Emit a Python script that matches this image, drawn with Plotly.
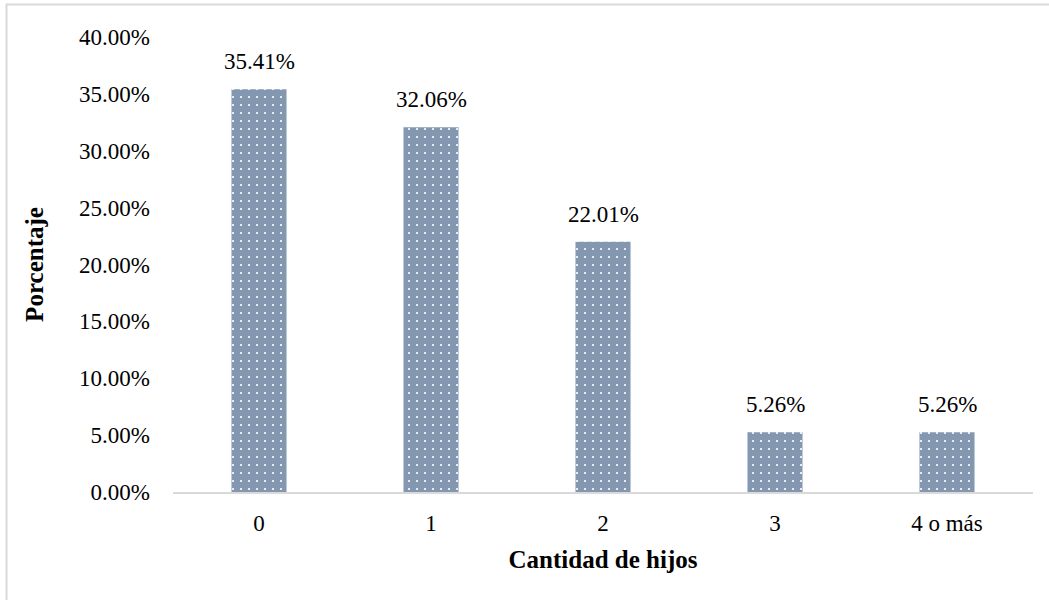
import plotly.graph_objects as go

# Distribution of respondents by number of children
categorias = ["0", "1", "2", "3", "4 o más"]
porcentajes = [35.41, 32.06, 22.01, 5.26, 5.26]
ticks_y = [0, 5, 10, 15, 20, 25, 30, 35, 40]

FONT = "Liberation Serif, Times New Roman, serif"
BAR_COLOR = "#8497B0"
GRID_GRAY = "#D9D9D9"
TICK_SIZE = 23
TITLE_SIZE = 25

fig = go.Figure()
fig.add_trace(go.Bar(
    x=categorias,
    y=porcentajes,
    width=0.32,
    marker=dict(
        color=BAR_COLOR,
        line=dict(width=0),
        pattern=dict(shape=".", fgcolor="white", bgcolor=BAR_COLOR,
                     size=8, solidity=0.06, fillmode="replace"),
    ),
    hoverinfo="skip",
))

# value labels above each bar
for cat, val in zip(categorias, porcentajes):
    fig.add_annotation(
        x=cat, y=val, text=f"{val:.2f}%", showarrow=False,
        yanchor="bottom", yshift=13,
        font=dict(family=FONT, size=TICK_SIZE, color="#000000"),
    )

# light frame around the chart area
fig.add_shape(
    type="rect", xref="paper", yref="paper",
    x0=-0.1936, x1=1.05, y0=-0.35, y1=1.0714,
    line=dict(color=GRID_GRAY, width=2), fillcolor="rgba(0,0,0,0)",
    layer="below",
)

fig.update_layout(
    width=1049, height=600,
    margin=dict(l=173, r=16, t=37, b=108),
    paper_bgcolor="white", plot_bgcolor="white",
    showlegend=False,
    font=dict(family=FONT, size=TICK_SIZE, color="#000000"),
    xaxis=dict(
        type="category",
        showgrid=False, zeroline=False,
        showline=True, linecolor=GRID_GRAY, linewidth=2,
        ticks="", ticklabelstandoff=9,
        tickfont=dict(family=FONT, size=TICK_SIZE, color="#000000"),
        title=dict(text="<b>Cantidad de hijos</b>",
                   font=dict(family=FONT, size=TITLE_SIZE, color="#000000"),
                   standoff=16),
    ),
    yaxis=dict(
        range=[0, 40],
        tickvals=ticks_y,
        ticktext=[f"{v:.2f}%" for v in ticks_y],
        showgrid=False, zeroline=False, showline=False,
        ticks="", ticklabelstandoff=22,
        tickfont=dict(family=FONT, size=TICK_SIZE, color="#000000"),
        title=dict(text="<b>Porcentaje</b>",
                   font=dict(family=FONT, size=TITLE_SIZE, color="#000000"),
                   standoff=28),
    ),
)

fig.write_html("out.html")
